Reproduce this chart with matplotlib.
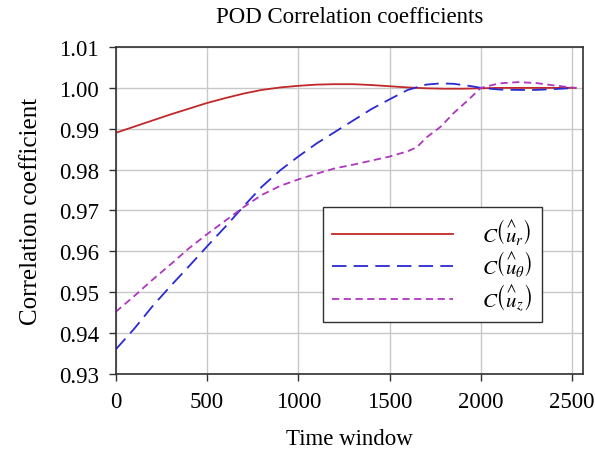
import matplotlib
matplotlib.use("Agg")
import matplotlib.pyplot as plt

plt.rcParams['font.family'] = ['Liberation Serif', 'DejaVu Serif']
plt.rcParams['mathtext.fontset'] = 'stix'

title = "POD Correlation coefficients"
xlabel = "Time window"
ylabel = "Correlation coefficient"
xticks = [0, 500, 1000, 1500, 2000, 2500]
yticks = [0.93, 0.94, 0.95, 0.96, 0.97, 0.98, 0.99, 1.00, 1.01]

red_x = [0, 100, 200, 300, 400, 500, 600, 700, 800, 900, 1000, 1100, 1200, 1300,
         1400, 1500, 1600, 1700, 1800, 1900, 2000, 2100, 2200, 2300, 2400, 2520]
red_y = [0.9890, 0.9905, 0.9920, 0.9935, 0.9949, 0.9963, 0.9975, 0.9986, 0.9995,
         1.0001, 1.0005, 1.0008, 1.0009, 1.0009, 1.0007, 1.0004, 1.0001, 0.9999,
         0.9998, 0.9998, 0.9999, 1.0000, 1.0000, 1.0000, 1.0000, 1.0000]

blue_x = [0, 100, 200, 300, 400, 500, 600, 700, 800, 900, 1000, 1100, 1200, 1300,
          1400, 1500, 1600, 1700, 1780, 1850, 1950, 2000, 2100, 2200, 2300, 2400, 2520]
blue_y = [0.9360, 0.9410, 0.9465, 0.9515, 0.9563, 0.9612, 0.9660, 0.9710, 0.9758,
          0.9798, 0.9832, 0.9864, 0.9892, 0.9920, 0.9948, 0.9972, 0.9995, 1.0008,
          1.0011, 1.0010, 1.0004, 1.0000, 0.9996, 0.9995, 0.9995, 0.9997, 1.0000]

mag_x = [0, 100, 200, 300, 400, 500, 600, 700, 800, 900, 1000, 1100, 1200, 1300,
         1400, 1500, 1600, 1650, 1700, 1780, 1850, 1930, 2000, 2100, 2200, 2300, 2400, 2520]
mag_y = [0.9452, 0.9490, 0.9530, 0.9568, 0.9607, 0.9642, 0.9675, 0.9708, 0.9738,
         0.9760, 0.9776, 0.9790, 0.9803, 0.9812, 0.9822, 0.9832, 0.9845, 0.9855,
         0.9878, 0.9905, 0.9938, 0.9970, 1.0000, 1.0011, 1.0014, 1.0012, 1.0006, 1.0000]

labels = [r"$C\left(\overset{\wedge}{u}_r\right)$",
          r"$C\left(\overset{\wedge}{u}_\theta\right)$",
          r"$C\left(\overset{\wedge}{u}_z\right)$"]

fig = plt.figure(figsize=(5.95, 4.52), dpi=100)
ax = fig.add_axes([0.1945, 0.1704, 0.7855, 0.7234])

ax.plot(red_x, red_y, color='#C0282A', lw=1.3, label=labels[0])
ax.plot(blue_x, blue_y, color='#2A2AD0', lw=1.3, dashes=(8, 4), label=labels[1])
ax.plot(mag_x, mag_y, color='#B035C0', lw=1.3, dashes=(4, 2.5), label=labels[2])

ax.set_xlim(0, 2560)
ax.set_ylim(0.93, 1.01)
ax.set_xticks(xticks)
ax.set_yticks(yticks)
ax.set_yticklabels([f"{v:.2f}" for v in yticks])
ax.grid(True, color='#C8C8C8', lw=1.0)
ax.set_axisbelow(True)
ax.tick_params(direction='out', length=5, width=1, labelsize=16.5, pad=7, color='#303030')
for s in ax.spines.values():
    s.set_color('#303030')
    s.set_linewidth(1.2)

ax.set_title(title, fontsize=16.5, pad=18)
ax.set_xlabel(xlabel, fontsize=16.5, labelpad=12)
ax.set_ylabel(ylabel, fontsize=18, labelpad=12)

leg = ax.legend(loc='lower left', bbox_to_anchor=(0.443, 0.159, 0.468, 0.355), mode='expand',
                borderaxespad=0, fontsize=15, handlelength=5.8, handletextpad=1.4,
                labelspacing=0.12, fancybox=False, framealpha=1, edgecolor='#303030',
                borderpad=0.45)
leg.get_frame().set_linewidth(1.0)

fig.savefig("out.png", dpi=100)
